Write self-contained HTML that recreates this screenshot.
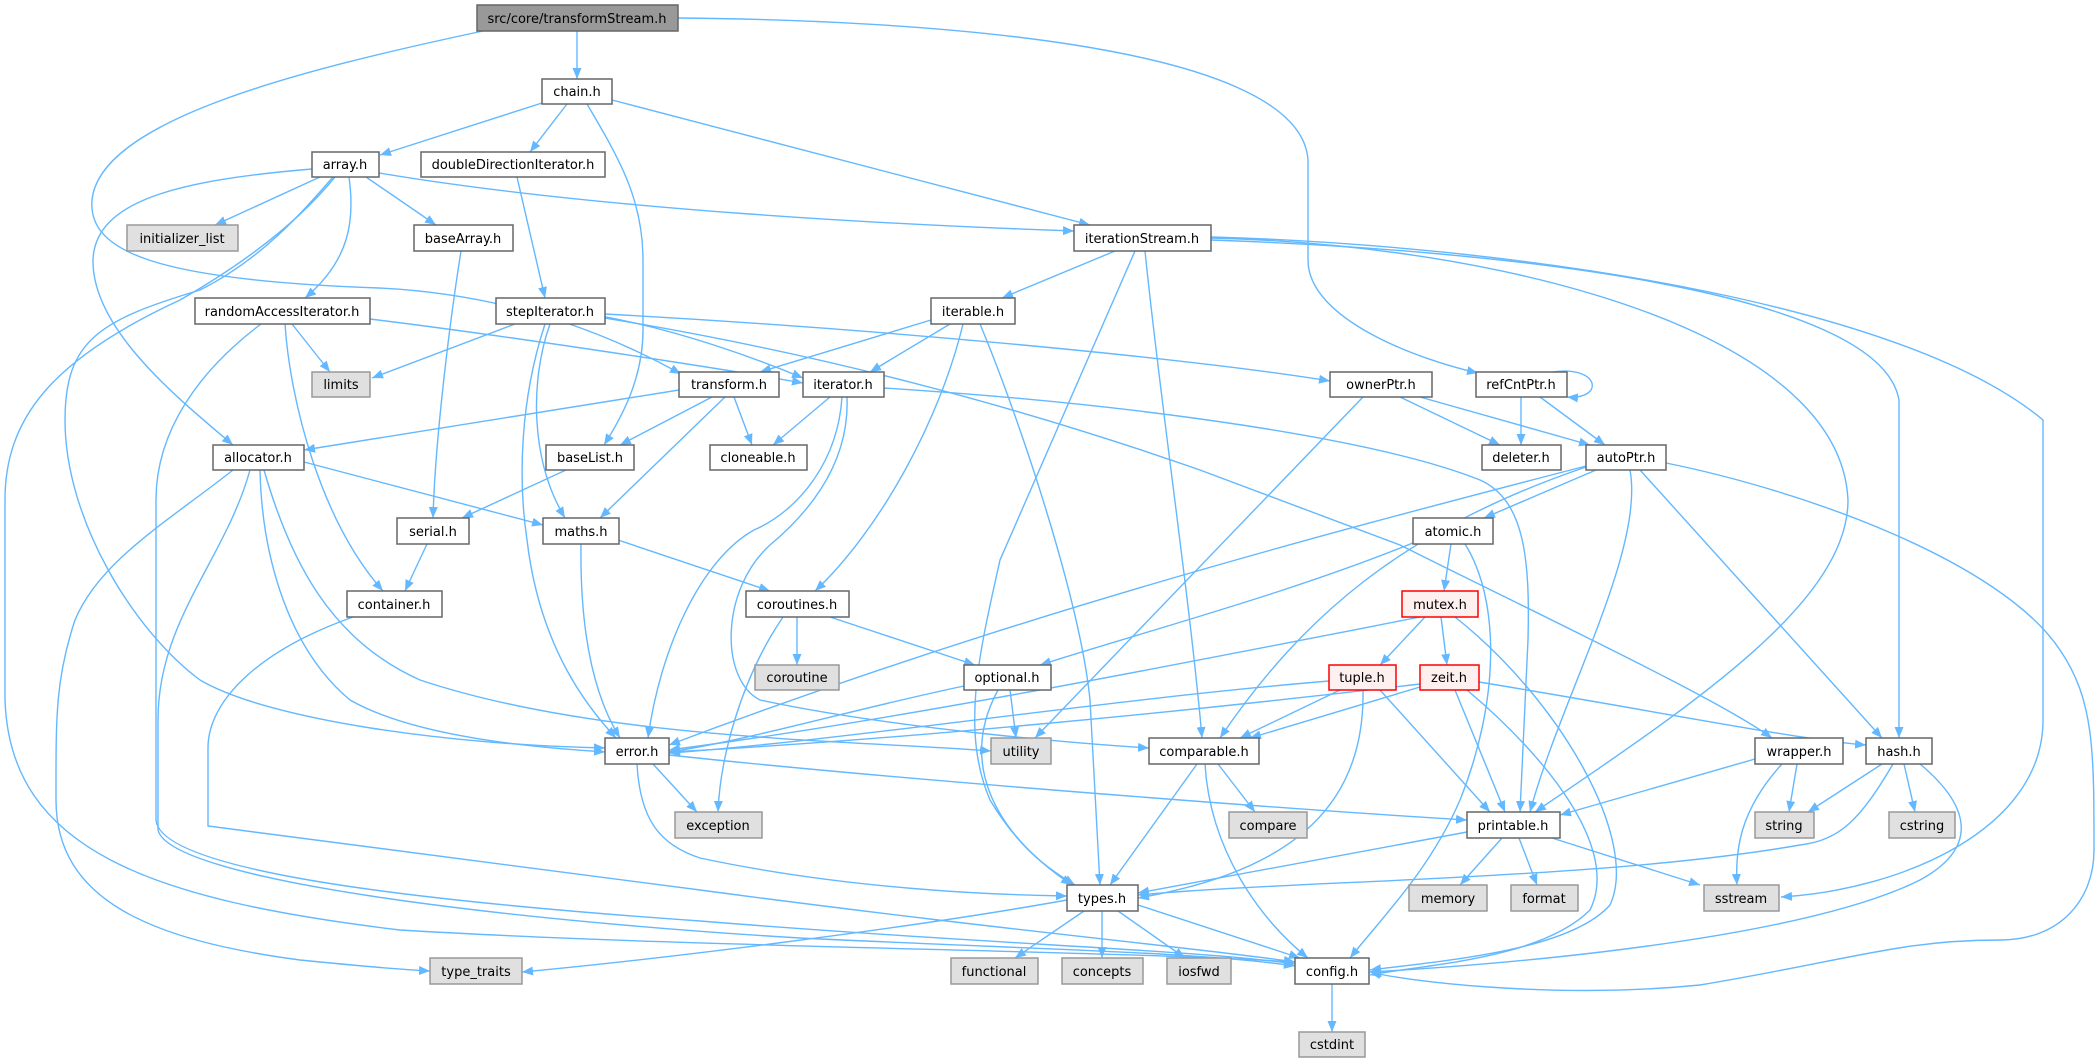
<!DOCTYPE html>
<html><head><meta charset="utf-8"><style>
html,body{margin:0;padding:0;background:#fff;width:2097px;height:1063px;overflow:hidden}
text{font-family:"DejaVu Sans","Liberation Sans",sans-serif;font-size:13px;fill:#000}
.e{fill:none;stroke:#63b8ff;stroke-width:1.4;marker-end:url(#a)}
.n{fill:#fff;stroke:#666;stroke-width:1.5}
.g{fill:#e0e0e0;stroke:#999;stroke-width:1.5}
.r{fill:#fff0f0;stroke:#f00;stroke-width:1.5}
.t{fill:#999;stroke:#666;stroke-width:1.5}
</style></head><body>
<svg width="2097" height="1063" viewBox="0 0 2097 1063" xmlns="http://www.w3.org/2000/svg">
<defs><marker id="a" markerUnits="userSpaceOnUse" markerWidth="12" markerHeight="10" refX="11" refY="4.5" orient="auto"><path d="M0,0 L11,4.5 L0,9 z" fill="#63b8ff"/></marker></defs>
<g>
<path class="e" d="M577,31 L577,79"/>
<path class="e" d="M483,31 C300,70 100,120 92,200 C88,250 150,280 379,288 C520,295 620,340 681,374"/>
<path class="e" d="M678,18 C900,20 1300,40 1308,160 L1308,260 C1308,320 1420,360 1478,373"/>
<path class="e" d="M542,103 L380,155"/>
<path class="e" d="M567,104 L530,152"/>
<path class="e" d="M587,104 C620,160 643,200 643,260 L643,330 C643,380 620,420 604,445"/>
<path class="e" d="M612,100 L1090,225"/>
<path class="e" d="M320,177 L215,225"/>
<path class="e" d="M366,177 L436,225"/>
<path class="e" d="M349,177 C355,220 350,260 305,298"/>
<path class="e" d="M379,173 C600,210 900,225 1074,231"/>
<path class="e" d="M312,169 C180,180 95,200 93,260 C92,330 180,400 233,445"/>
<path class="e" d="M333,177 C300,215 260,260 200,290 C100,320 65,340 65,420 C65,520 134,631 200,680 C268,720 450,745 605,748"/>
<path class="e" d="M335,177 C300,220 250,260 180,300 C50,360 5,420 5,500 L5,700 C10,850 150,900 400,930 C700,948 1100,950 1295,962"/>
<path class="e" d="M370,319 C500,335 700,365 803,383"/>
<path class="e" d="M292,324 L330,372"/>
<path class="e" d="M285,324 C290,400 320,520 383,591"/>
<path class="e" d="M261,324 C200,370 156,430 156,500 L156,820 C160,870 400,900 700,921 C1000,945 1200,950 1295,964"/>
<path class="e" d="M353,617 C260,650 208,700 208,748 L208,826 L700,890 C1000,930 1200,948 1295,962"/>
<path class="e" d="M233,470 C170,520 100,560 75,620 C55,680 56,720 56,800 C56,900 150,940 300,960 C380,968 410,970 430,971"/>
<path class="e" d="M260,470 C262,560 290,650 350,700 C420,740 550,748 605,752"/>
<path class="e" d="M264,470 C290,560 330,640 420,680 C600,740 850,740 991,751"/>
<path class="e" d="M250,470 C225,560 158,620 158,720 L158,830 C170,880 500,920 800,938 C1050,950 1200,952 1295,966"/>
<path class="e" d="M304,462 L543,525"/>
<path class="e" d="M517,177 L545,298"/>
<path class="e" d="M461,251 C450,320 435,440 433,518"/>
<path class="e" d="M515,324 L372,378"/>
<path class="e" d="M600,316 C680,330 760,360 803,378"/>
<path class="e" d="M605,314 C900,330 1200,360 1330,381"/>
<path class="e" d="M605,318 C800,350 1000,400 1200,470 L1400,545 C1550,620 1720,700 1772,738"/>
<path class="e" d="M545,324 C520,400 518,480 527,540 C540,650 590,710 616,738"/>
<path class="e" d="M550,324 C530,380 530,460 565,518"/>
<path class="e" d="M679,390 L304,450"/>
<path class="e" d="M712,397 L620,445"/>
<path class="e" d="M734,397 L752,445"/>
<path class="e" d="M725,397 L600,518"/>
<path class="e" d="M566,470 L462,518"/>
<path class="e" d="M427,544 L405,591"/>
<path class="e" d="M581,544 C580,620 590,690 620,738"/>
<path class="e" d="M618,540 L770,591"/>
<path class="e" d="M1115,251 L1002,298"/>
<path class="e" d="M1135,251 L1000,560 C980,650 960,730 990,800 C1020,850 1050,870 1075,885"/>
<path class="e" d="M1145,251 C1160,400 1190,600 1202,738"/>
<path class="e" d="M1211,238 C1500,245 1840,330 1848,500 C1848,600 1700,700 1535,812"/>
<path class="e" d="M1211,240 C1500,250 1880,290 1899,400 L1899,738"/>
<path class="e" d="M1211,237 C1500,245 1900,300 2043,420 L2043,720 C2043,830 1900,890 1781,897"/>
<path class="e" d="M931,320 L760,372"/>
<path class="e" d="M950,324 L870,372"/>
<path class="e" d="M963,324 C940,420 880,530 815,591"/>
<path class="e" d="M980,324 C1020,420 1080,600 1090,700 L1100,885"/>
<path class="e" d="M830,397 L773,445"/>
<path class="e" d="M842,397 C838,460 800,510 754,530 C700,560 660,650 648,738"/>
<path class="e" d="M847,397 C850,470 800,520 770,545 C720,590 720,680 760,700 C900,730 1100,745 1149,748"/>
<path class="e" d="M884,388 C1150,405 1380,440 1480,480 C1525,500 1530,560 1528,640 L1520,812"/>
<path class="e" d="M1363,397 L1035,738"/>
<path class="e" d="M1400,397 L1500,445"/>
<path class="e" d="M1420,397 L1590,445"/>
<path class="e" d="M1521,397 L1521,445"/>
<path class="e" d="M1540,397 L1605,445"/>
<path class="e" d="M1553,372 C1600,365 1605,400 1567,397"/>
<path class="e" d="M1596,470 L1484,518"/>
<path class="e" d="M1586,466 C1300,540 1000,620 669,745"/>
<path class="e" d="M1586,467 C1400,530 1300,620 1220,738"/>
<path class="e" d="M1630,470 C1645,550 1560,700 1530,812"/>
<path class="e" d="M1640,470 L1882,738"/>
<path class="e" d="M1666,463 C1800,490 2000,560 2060,650 C2094,700 2094,750 2094,850 C2094,900 2060,940 2000,940 C1900,940 1850,960 1700,985 C1550,1000 1400,980 1370,972"/>
<path class="e" d="M1451,544 L1444,591"/>
<path class="e" d="M1420,540 C1300,590 1150,630 1040,665"/>
<path class="e" d="M1465,544 C1500,600 1500,700 1460,800 C1430,870 1380,920 1350,958"/>
<path class="e" d="M1425,617 L1380,665"/>
<path class="e" d="M1441,617 L1447,665"/>
<path class="e" d="M1420,617 C1200,660 900,720 669,750"/>
<path class="e" d="M1455,617 C1560,700 1640,840 1610,905 C1570,950 1450,960 1370,970"/>
<path class="e" d="M1420,687 L1250,738"/>
<path class="e" d="M1340,690 L1240,738"/>
<path class="e" d="M1420,684 C1200,710 900,740 669,752"/>
<path class="e" d="M1455,690 L1505,812"/>
<path class="e" d="M1479,682 C1650,710 1800,740 1866,745"/>
<path class="e" d="M1467,690 C1550,760 1620,850 1590,910 C1540,960 1420,965 1370,975"/>
<path class="e" d="M1363,690 C1365,800 1300,870 1138,898"/>
<path class="e" d="M1380,690 L1490,812"/>
<path class="e" d="M1329,681 C1100,700 850,740 669,753"/>
<path class="e" d="M797,617 L797,665"/>
<path class="e" d="M830,617 L975,665"/>
<path class="e" d="M783,617 C740,680 720,760 718,812"/>
<path class="e" d="M1010,690 L1016,738"/>
<path class="e" d="M964,686 C850,710 750,740 669,752"/>
<path class="e" d="M998,690 C960,760 990,830 1072,885"/>
<path class="e" d="M1197,764 L1110,885"/>
<path class="e" d="M1218,764 L1255,812"/>
<path class="e" d="M1205,764 C1210,850 1260,920 1308,958"/>
<path class="e" d="M653,764 L697,812"/>
<path class="e" d="M637,764 C640,820 660,845 700,858 C850,890 1000,895 1067,896"/>
<path class="e" d="M669,755 C900,780 1300,810 1467,820"/>
<path class="e" d="M1755,759 L1560,815"/>
<path class="e" d="M1797,764 L1789,812"/>
<path class="e" d="M1782,764 C1740,810 1735,850 1737,885"/>
<path class="e" d="M1882,764 L1808,812"/>
<path class="e" d="M1904,764 L1915,812"/>
<path class="e" d="M1893,764 C1860,820 1840,840 1800,845 C1600,880 1300,880 1138,895"/>
<path class="e" d="M1920,764 C1975,810 1975,850 1920,880 C1800,940 1500,965 1370,972"/>
<path class="e" d="M1467,832 L1138,893"/>
<path class="e" d="M1502,838 L1460,885"/>
<path class="e" d="M1519,838 L1537,885"/>
<path class="e" d="M1552,838 L1700,885"/>
<path class="e" d="M1084,911 L1015,958"/>
<path class="e" d="M1102,911 L1102,958"/>
<path class="e" d="M1118,911 L1185,958"/>
<path class="e" d="M1138,905 L1300,958"/>
<path class="e" d="M1067,900 C900,930 650,960 522,972"/>
<path class="e" d="M1332,984 L1332,1032"/>
</g>
<g text-anchor="middle">
<rect class="t" x="477" y="5" width="201" height="26"/><text x="577" y="23">src/core/transformStream.h</text>
<rect class="n" x="542" y="79" width="70" height="25"/><text x="577" y="96">chain.h</text>
<rect class="n" x="312" y="152" width="67" height="25"/><text x="345" y="169">array.h</text>
<rect class="n" x="421" y="152" width="184" height="25"/><text x="513" y="169">doubleDirectionIterator.h</text>
<rect class="g" x="127" y="225" width="111" height="26"/><text x="182" y="243">initializer_list</text>
<rect class="n" x="414" y="225" width="99" height="26"/><text x="463" y="243">baseArray.h</text>
<rect class="n" x="1074" y="225" width="137" height="26"/><text x="1142" y="243">iterationStream.h</text>
<rect class="n" x="195" y="298" width="175" height="26"/><text x="282" y="316">randomAccessIterator.h</text>
<rect class="n" x="496" y="298" width="109" height="26"/><text x="550" y="316">stepIterator.h</text>
<rect class="n" x="931" y="298" width="84" height="26"/><text x="973" y="316">iterable.h</text>
<rect class="g" x="312" y="372" width="58" height="25"/><text x="341" y="389">limits</text>
<rect class="n" x="679" y="372" width="100" height="25"/><text x="729" y="389">transform.h</text>
<rect class="n" x="803" y="372" width="81" height="25"/><text x="843" y="389">iterator.h</text>
<rect class="n" x="1330" y="372" width="102" height="25"/><text x="1381" y="389">ownerPtr.h</text>
<rect class="n" x="1476" y="372" width="91" height="25"/><text x="1521" y="389">refCntPtr.h</text>
<rect class="n" x="213" y="445" width="91" height="25"/><text x="258" y="462">allocator.h</text>
<rect class="n" x="546" y="445" width="88" height="25"/><text x="590" y="462">baseList.h</text>
<rect class="n" x="710" y="445" width="97" height="25"/><text x="758" y="462">cloneable.h</text>
<rect class="n" x="1482" y="445" width="79" height="25"/><text x="1521" y="462">deleter.h</text>
<rect class="n" x="1586" y="445" width="80" height="25"/><text x="1626" y="462">autoPtr.h</text>
<rect class="n" x="397" y="518" width="72" height="26"/><text x="433" y="536">serial.h</text>
<rect class="n" x="543" y="518" width="76" height="26"/><text x="581" y="536">maths.h</text>
<rect class="n" x="1413" y="518" width="80" height="26"/><text x="1453" y="536">atomic.h</text>
<rect class="n" x="347" y="591" width="95" height="26"/><text x="394" y="609">container.h</text>
<rect class="n" x="746" y="591" width="103" height="26"/><text x="797" y="609">coroutines.h</text>
<rect class="r" x="1402" y="591" width="76" height="26"/><text x="1440" y="609">mutex.h</text>
<rect class="g" x="755" y="665" width="84" height="25"/><text x="797" y="682">coroutine</text>
<rect class="n" x="964" y="665" width="87" height="25"/><text x="1007" y="682">optional.h</text>
<rect class="r" x="1329" y="665" width="67" height="25"/><text x="1362" y="682">tuple.h</text>
<rect class="r" x="1420" y="665" width="59" height="25"/><text x="1449" y="682">zeit.h</text>
<rect class="n" x="605" y="738" width="64" height="26"/><text x="637" y="756">error.h</text>
<rect class="g" x="991" y="738" width="60" height="26"/><text x="1021" y="756">utility</text>
<rect class="n" x="1149" y="738" width="110" height="26"/><text x="1204" y="756">comparable.h</text>
<rect class="n" x="1755" y="738" width="88" height="26"/><text x="1799" y="756">wrapper.h</text>
<rect class="n" x="1866" y="738" width="66" height="26"/><text x="1899" y="756">hash.h</text>
<rect class="g" x="675" y="812" width="87" height="26"/><text x="718" y="830">exception</text>
<rect class="g" x="1229" y="812" width="78" height="26"/><text x="1268" y="830">compare</text>
<rect class="n" x="1467" y="812" width="93" height="26"/><text x="1513" y="830">printable.h</text>
<rect class="g" x="1755" y="812" width="59" height="26"/><text x="1784" y="830">string</text>
<rect class="g" x="1889" y="812" width="66" height="26"/><text x="1922" y="830">cstring</text>
<rect class="n" x="1067" y="885" width="71" height="26"/><text x="1102" y="903">types.h</text>
<rect class="g" x="1409" y="885" width="78" height="26"/><text x="1448" y="903">memory</text>
<rect class="g" x="1511" y="885" width="67" height="26"/><text x="1544" y="903">format</text>
<rect class="g" x="1704" y="885" width="75" height="26"/><text x="1741" y="903">sstream</text>
<rect class="g" x="430" y="958" width="92" height="26"/><text x="476" y="976">type_traits</text>
<rect class="g" x="951" y="958" width="87" height="26"/><text x="994" y="976">functional</text>
<rect class="g" x="1062" y="958" width="81" height="26"/><text x="1102" y="976">concepts</text>
<rect class="g" x="1167" y="958" width="64" height="26"/><text x="1199" y="976">iosfwd</text>
<rect class="n" x="1295" y="958" width="74" height="26"/><text x="1332" y="976">config.h</text>
<rect class="g" x="1299" y="1032" width="66" height="25"/><text x="1332" y="1049">cstdint</text>
</g>
</svg>
</body></html>
